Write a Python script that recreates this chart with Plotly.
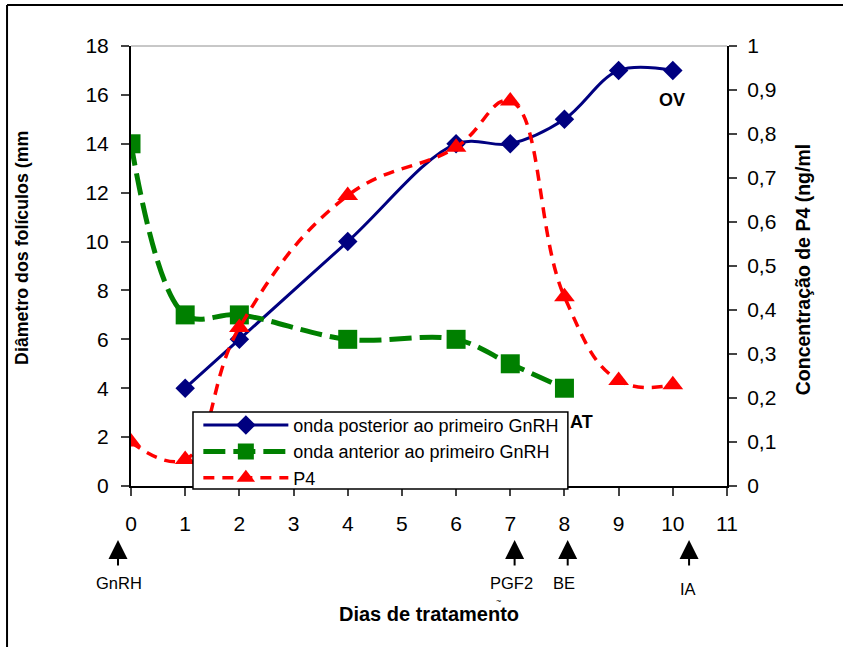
import plotly.graph_objects as go

# ---- data ----
days_post = [1, 2, 4, 6, 7, 8, 9, 10]
diam_post = [4, 6, 10, 14, 14, 15, 17, 17]

days_ant = [0, 1, 2, 4, 6, 7, 8]
diam_ant = [14, 7, 7, 6, 6, 5, 4]

days_p4 = [0, 1, 2, 4, 6, 7, 8, 9, 10]
conc_p4 = [0.10, 0.06, 0.36, 0.66, 0.77, 0.875, 0.43, 0.24, 0.23]

x_ticks = list(range(0, 12))
y_left_ticks = list(range(0, 20, 2))
y_right_vals = [0, 0.1, 0.2, 0.3, 0.4, 0.5, 0.6, 0.7, 0.8, 0.9, 1.0]
y_right_text = ["0", "0,1", "0,2", "0,3", "0,4", "0,5", "0,6", "0,7", "0,8", "0,9", "1"]

events = ["GnRH", "PGF2", "BE", "IA"]
event_days = [-0.24, 7.08, 8.06, 10.3]
event_label_x = [-0.22, 7.03, 7.99, 10.28]

name_post = "onda posterior ao primeiro GnRH"
name_ant = "onda anterior ao primeiro GnRH"
name_p4 = "P4"

FONT = "Arial, Liberation Sans, sans-serif"
X_MAX = 11

fig = go.Figure()
fig.add_trace(go.Scatter(
    x=days_post, y=diam_post, name=name_post, mode="lines+markers",
    line=dict(color="#000080", width=3, shape="spline", smoothing=1),
    marker=dict(symbol="diamond", size=15, color="#000080")))
fig.add_trace(go.Scatter(
    x=days_ant, y=diam_ant, name=name_ant, mode="lines+markers",
    line=dict(color="#008000", width=5, dash="22px,8px", shape="spline", smoothing=1),
    marker=dict(symbol="square", size=19, color="#008000")))
fig.add_trace(go.Scatter(
    x=days_p4, y=conc_p4, name=name_p4, mode="lines+markers", yaxis="y2",
    line=dict(color="#FF0000", width=3.5, dash="11px,8px", shape="spline", smoothing=1.2),
    marker=dict(symbol="triangle-up", size=18, color="#FF0000")))

annotations = []
for ev, xd, xl in zip(events, event_days, event_label_x):
    annotations.append(dict(
        x=xd / X_MAX, y=-0.1227, xref="paper", yref="paper", text="", showarrow=True,
        ax=0, ay=27, axref="pixel", ayref="pixel",
        arrowhead=2, arrowsize=1.9, arrowwidth=2, arrowcolor="black"))
    annotations.append(dict(
        x=xl / X_MAX, y=(-0.234 if ev == "IA" else -0.2205), xref="paper", yref="paper",
        xanchor="center", yanchor="middle",
        text=ev, showarrow=False, font=dict(family=FONT, size=16.5, color="black")))

annotations += [
    dict(x=0.5, y=-0.291, xref="paper", yref="paper", text="<b>Dias de tratamento</b>",
         xanchor="center", yanchor="middle",
         showarrow=False, font=dict(family=FONT, size=20, color="black")),
    dict(x=0.616, y=-0.262, xref="paper", yref="paper", text="~",
         xanchor="center", yanchor="middle",
         showarrow=False, font=dict(family=FONT, size=9, color="black")),
    dict(x=-0.183, y=0.541, xref="paper", yref="paper", text="<b>Diâmetro dos folículos (mm</b>",
         xanchor="center", yanchor="middle",
         textangle=-90, showarrow=False, font=dict(family=FONT, size=17.8, color="black")),
    dict(x=1.128, y=0.491, xref="paper", yref="paper", text="<b>Concentração de P4 (ng/ml</b>",
         xanchor="center", yanchor="middle",
         textangle=-90, showarrow=False, font=dict(family=FONT, size=19.5, color="black")),
    dict(x=9.98, y=15.8, xref="x", yref="y", text="<b>OV</b>", showarrow=False,
         font=dict(family=FONT, size=18, color="black")),
    dict(x=8.31, y=2.6, xref="x", yref="y", text="<b>AT</b>", showarrow=False,
         font=dict(family=FONT, size=18, color="black")),
]

shapes = [
    # outer frame (left and top)
    dict(type="line", xref="paper", yref="paper", x0=-0.208, x1=-0.208, y0=1.093, y1=-0.4,
         line=dict(color="black", width=2)),
    dict(type="line", xref="paper", yref="paper", x0=-0.208, x1=1.3, y0=1.093, y1=1.093,
         line=dict(color="black", width=2)),
    # plot-area top border
    dict(type="line", xref="paper", yref="paper", x0=0, x1=1, y0=1, y1=1,
         line=dict(color="#909090", width=1)),
    # legend box
    dict(type="rect", xref="paper", yref="paper", x0=0.104, x1=0.733, y0=-0.0068, y1=0.168,
         fillcolor="white", line=dict(color="black", width=1.5), layer="above"),
]

fig.update_layout(
    width=843, height=647,
    margin=dict(l=131, r=116, t=46, b=161),
    paper_bgcolor="white", plot_bgcolor="white",
    font=dict(family=FONT, color="black"),
    showlegend=True,
    legend=dict(x=0.113, y=0.18, xanchor="left", yanchor="top",
                bgcolor="rgba(0,0,0,0)", borderwidth=0,
                font=dict(family=FONT, size=18, color="black"),
                itemwidth=85, traceorder="normal", tracegroupgap=0),
    xaxis=dict(range=[0, X_MAX], tickvals=x_ticks, ticks="outside", ticklen=8, tickwidth=1.5,
               showline=True, linecolor="black", linewidth=2, showgrid=False, zeroline=False,
               tickfont=dict(family=FONT, size=21), ticklabelstandoff=10),
    yaxis=dict(range=[0, 18], tickvals=y_left_ticks, ticks="outside", ticklen=8, tickwidth=1.5,
               showline=True, linecolor="black", linewidth=2, showgrid=False, zeroline=False,
               tickfont=dict(family=FONT, size=21), ticklabelstandoff=8),
    yaxis2=dict(range=[0, 1], overlaying="y", side="right", tickvals=y_right_vals,
                ticktext=y_right_text, ticks="outside", ticklen=8, tickwidth=1.5,
                showline=True, linecolor="black", linewidth=2, showgrid=False, zeroline=False,
                tickfont=dict(family=FONT, size=21), ticklabelstandoff=6),
    annotations=annotations,
    shapes=shapes,
)

fig.write_html("out.html")
